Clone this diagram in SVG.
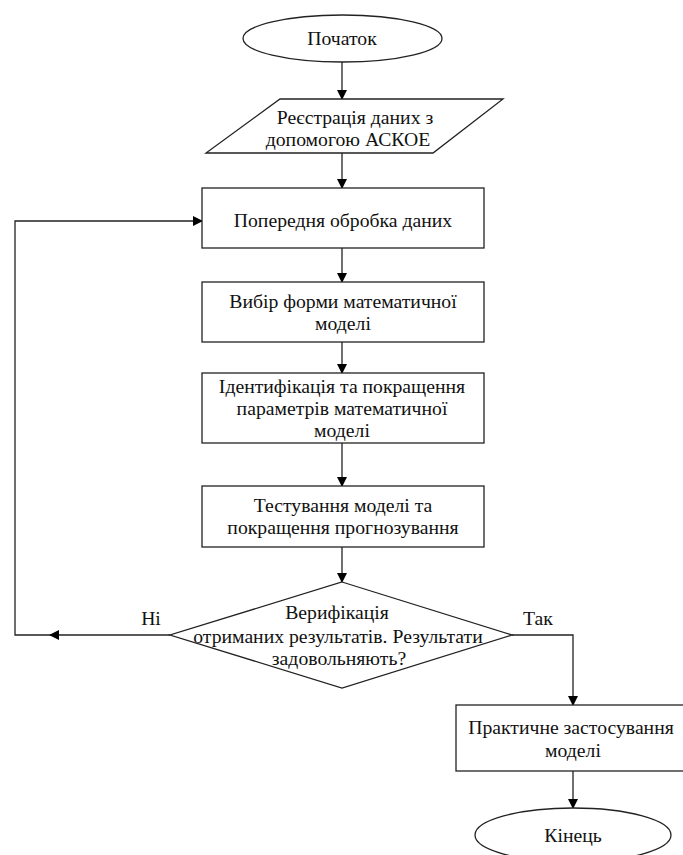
<svg xmlns="http://www.w3.org/2000/svg" width="683" height="855" viewBox="0 0 683 855">
<defs>
<marker id="ah" markerWidth="10" markerHeight="10" refX="9" refY="5" orient="auto" markerUnits="userSpaceOnUse">
<path d="M0,0 L10,5 L0,10 Z" fill="#000"/>
</marker>
<style>
.s{fill:#fff;stroke:#222;stroke-width:1.3}
.t{font-family:"Liberation Serif","Times New Roman",serif;font-size:19.7px;fill:#111;text-anchor:middle}
.c{fill:none;stroke:#222;stroke-width:1.3}
</style>
</defs>
<rect width="683" height="855" fill="#fff"/>
<g id="connectors">
<line class="c" x1="342" y1="62" x2="342" y2="99" marker-end="url(#ah)"/>
<line class="c" x1="342" y1="153" x2="342" y2="188" marker-end="url(#ah)"/>
<line class="c" x1="342" y1="248" x2="342" y2="282" marker-end="url(#ah)"/>
<line class="c" x1="342" y1="342" x2="342" y2="373" marker-end="url(#ah)"/>
<line class="c" x1="342" y1="443" x2="342" y2="486" marker-end="url(#ah)"/>
<line class="c" x1="342" y1="547" x2="342" y2="582" marker-end="url(#ah)"/>
<line class="c" x1="170" y1="635" x2="50" y2="635" marker-end="url(#ah)"/>
<polyline class="c" points="50,635 15,635 15,221 202,221" marker-end="url(#ah)"/>
<polyline class="c" points="512,635 573,635 573,705" marker-end="url(#ah)"/>
<line class="c" x1="573" y1="771" x2="573" y2="808" marker-end="url(#ah)"/>
<text class="t" x="151" y="625">Ні</text>
<text class="t" x="538" y="625">Так</text>
</g>
<g id="start">
<ellipse class="s" cx="342.5" cy="38.5" rx="99.5" ry="23.5"/>
<text class="t" x="342" y="45">Початок</text>
</g>
<g id="input">
<polygon class="s" points="280,99 503,99 433,153 206,153"/>
<text class="t" x="355" y="124">Реєстрація даних з</text>
<text class="t" x="348" y="146">допомогою АСКОЕ</text>
</g>
<g id="preprocess">
<rect class="s" x="202" y="188" width="282" height="60"/>
<text class="t" x="343" y="227">Попередня обробка даних</text>
</g>
<g id="choose">
<rect class="s" x="202" y="282" width="282" height="60"/>
<text class="t" x="343" y="308">Вибір форми математичної</text>
<text class="t" x="343" y="330">моделі</text>
</g>
<g id="identify">
<rect class="s" x="202" y="373" width="282" height="70"/>
<text class="t" x="342" y="393">Ідентифікація та покращення</text>
<text class="t" x="342" y="415">параметрів математичної</text>
<text class="t" x="342" y="437">моделі</text>
</g>
<g id="test">
<rect class="s" x="202" y="486" width="282" height="61"/>
<text class="t" x="343" y="512">Тестування моделі та</text>
<text class="t" x="343" y="534">покращення прогнозування</text>
</g>
<g id="verify">
<polygon class="s" points="342,582 512,635 342,688 170,635"/>
<text class="t" x="337" y="619">Верифікація</text>
<text class="t" x="338" y="643">отриманих результатів. Результати</text>
<text class="t" x="339" y="665">задовольняють?</text>
</g>
<g id="apply">
<rect class="s" x="456" y="705" width="240" height="66"/>
<text class="t" x="571" y="734">Практичне застосування</text>
<text class="t" x="573" y="757">моделі</text>
</g>
<g id="end">
<ellipse class="s" cx="573" cy="835" rx="98" ry="27"/>
<text class="t" x="573" y="842">Кінець</text>
</g>
</svg>
